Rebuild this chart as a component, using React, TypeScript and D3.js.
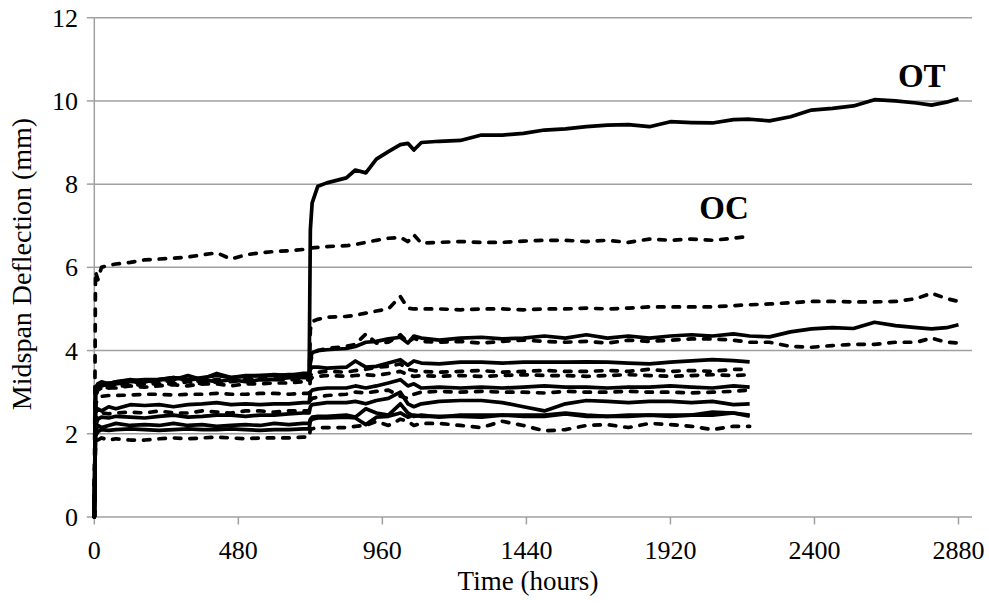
import React from "react";
import * as d3 from "d3";

// Reading times (hours): before reloading, after reloading, extended monitoring
const timePre = [0, 4, 12, 24, 48, 72, 120, 168, 216, 264, 312, 360, 408, 456, 504, 552, 600, 648, 696, 716];
const timePost = [720, 726, 745, 775, 840, 870, 905, 940, 980, 1020, 1045, 1065, 1090, 1150, 1220, 1290, 1360, 1430, 1500, 1570, 1640, 1710, 1780, 1850, 1920, 1990, 2060, 2130, 2184];
const timeTail = [2250, 2320, 2390, 2460, 2530, 2600, 2670, 2740, 2790, 2840, 2880];

const timeShort = [...timePre, ...timePost];
const timeLong = [...timeShort, ...timeTail];

// Midspan deflection (mm)
const deflOT = [
  0, 3.1, 3.2, 3.15, 3.2, 3.25, 3.3, 3.25, 3.3, 3.35, 3.3, 3.35, 3.4, 3.35, 3.4, 3.4, 3.42, 3.4, 3.45, 3.45,
  6.9, 7.55, 7.95, 8.03, 8.15, 8.34, 8.27, 8.6, 8.78, 8.95, 8.98, 8.82, 9.0, 9.03, 9.05, 9.18, 9.18, 9.22, 9.3, 9.33, 9.38, 9.42, 9.43, 9.38, 9.5, 9.48, 9.47, 9.55, 9.56,
  9.52, 9.62, 9.78, 9.82, 9.88, 10.03, 10.0, 9.95, 9.9, 9.97, 10.05,
];
const deflOC = [
  0, 5.9, 5.7, 6.0, 6.05, 6.08, 6.12, 6.18, 6.2, 6.22, 6.25, 6.3, 6.35, 6.2, 6.3, 6.35, 6.38, 6.4, 6.43, 6.45,
  6.46, 6.47, 6.48, 6.5, 6.52, 6.55, 6.6, 6.65, 6.7, 6.72, 6.62, 6.78, 6.58, 6.6, 6.62, 6.6, 6.6, 6.63, 6.65, 6.65, 6.62, 6.65, 6.6, 6.68, 6.65, 6.68, 6.65, 6.7, 6.75,
];
const deflA = [
  0, 2.9, 3.1, 3.15, 3.1, 3.15, 3.15, 3.2, 3.2, 3.2, 3.25, 3.2, 3.25, 3.25, 3.3, 3.3, 3.3, 3.3, 3.3, 3.3,
  4.5, 4.7, 4.75, 4.8, 4.82, 4.85, 4.9, 4.95, 5.0, 5.3, 5.02, 5.0, 5.0, 5.0, 4.98, 5.0, 5.0, 4.98, 5.0, 5.0, 5.02, 5.0, 5.02, 5.05, 5.05, 5.05, 5.05, 5.08, 5.1,
  5.12, 5.15, 5.18, 5.18, 5.17, 5.17, 5.18, 5.25, 5.38, 5.25, 5.18,
];
const deflB = [
  0, 3.05, 3.2, 3.25, 3.2, 3.25, 3.28, 3.3, 3.3, 3.35, 3.3, 3.32, 3.45, 3.35, 3.38, 3.4, 3.4, 3.42, 3.42, 3.45,
  3.8, 3.95, 4.0, 4.02, 4.05, 4.1, 4.2, 4.22, 4.28, 4.32, 4.18, 4.35, 4.3, 4.25, 4.3, 4.32, 4.28, 4.3, 4.35, 4.3, 4.38, 4.3, 4.35, 4.3, 4.35, 4.38, 4.35, 4.4, 4.35,
  4.33, 4.45, 4.52, 4.55, 4.53, 4.68, 4.6, 4.55, 4.52, 4.55, 4.62,
];
const deflC = [
  0, 3.0, 3.15, 3.2, 3.22, 3.2, 3.22, 3.25, 3.25, 3.28, 3.3, 3.25, 3.3, 3.28, 3.3, 3.32, 3.32, 3.35, 3.35, 3.38,
  3.7, 3.9, 4.0, 4.05, 4.1, 4.15, 4.4, 4.18, 4.2, 4.38, 4.2, 4.3, 4.22, 4.2, 4.22, 4.18, 4.22, 4.25, 4.22, 4.2, 4.22, 4.18, 4.25, 4.22, 4.25, 4.28, 4.28, 4.25, 4.2,
  4.2, 4.1, 4.08, 4.12, 4.15, 4.15, 4.2, 4.2, 4.3, 4.2, 4.18,
];
const deflD = [
  0, 3.0, 3.15, 3.2, 3.15, 3.2, 3.25, 3.25, 3.3, 3.3, 3.4, 3.3, 3.25, 3.3, 3.25, 3.3, 3.3, 3.35, 3.35, 3.35,
  3.55, 3.6, 3.6, 3.58, 3.6, 3.75, 3.6, 3.62, 3.7, 3.78, 3.65, 3.75, 3.7, 3.68, 3.72, 3.72, 3.7, 3.72, 3.72, 3.72, 3.73, 3.72, 3.7, 3.68, 3.72, 3.75, 3.78, 3.76, 3.73,
];
const deflE1 = [
  0, 2.9, 3.05, 3.1, 3.1, 3.1, 3.15, 3.12, 3.15, 3.18, 3.15, 3.2, 3.2, 3.15, 3.2, 3.2, 3.22, 3.22, 3.25, 3.25,
  3.4, 3.45, 3.48, 3.5, 3.48, 3.52, 3.55, 3.6, 3.62, 3.68, 3.55, 3.52, 3.5, 3.48, 3.5, 3.52, 3.48, 3.5, 3.52, 3.5, 3.5, 3.52, 3.5, 3.55, 3.5, 3.52, 3.5, 3.55, 3.55,
];
const deflE2 = [
  0, 2.7, 2.85, 2.9, 2.92, 2.92, 2.93, 2.95, 2.95, 2.93, 2.95, 2.95, 2.97, 2.95, 2.95, 2.97, 2.97, 2.95, 2.97, 2.97,
  3.3, 3.35, 3.38, 3.4, 3.38, 3.4, 3.42, 3.4, 3.45, 3.5, 3.42, 3.38, 3.4, 3.38, 3.4, 3.38, 3.4, 3.42, 3.4, 3.4, 3.38, 3.4, 3.42, 3.4, 3.38, 3.4, 3.42, 3.4, 3.42,
];
const deflF = [
  0, 2.5, 2.6, 2.55, 2.65, 2.6, 2.7, 2.68, 2.7, 2.65, 2.7, 2.72, 2.75, 2.7, 2.72, 2.7, 2.72, 2.72, 2.75, 2.75,
  3.0, 3.05, 3.08, 3.1, 3.1, 3.15, 3.1, 3.15, 3.22, 3.3, 3.15, 3.2, 3.1, 3.12, 3.1, 3.12, 3.1, 3.12, 3.15, 3.12, 3.12, 3.1, 3.12, 3.12, 3.15, 3.12, 3.1, 3.15, 3.12,
];
const deflG = [
  0, 2.3, 2.45, 2.5, 2.48, 2.5, 2.52, 2.5, 2.55, 2.5, 2.5, 2.55, 2.52, 2.5, 2.55, 2.55, 2.52, 2.55, 2.55, 2.55,
  2.8, 2.85, 2.88, 2.92, 2.95, 3.0, 2.98, 3.02, 3.05, 2.9, 2.85, 2.95, 3.0, 3.02, 3.0, 3.02, 3.0, 3.0, 2.98, 3.02, 3.0, 3.0, 3.02, 3.0, 3.0, 2.98, 3.0, 3.02, 3.05,
];
const deflH = [
  0, 2.2, 2.35, 2.4, 2.38, 2.42, 2.4, 2.38, 2.42, 2.45, 2.4, 2.42, 2.45, 2.45, 2.42, 2.45, 2.45, 2.48, 2.5, 2.5,
  2.65, 2.7, 2.72, 2.75, 2.75, 2.78, 2.72, 2.8, 2.85, 3.0, 2.72, 2.65, 2.72, 2.78, 2.8, 2.8, 2.75, 2.65, 2.55, 2.72, 2.8, 2.78, 2.75, 2.78, 2.78, 2.75, 2.78, 2.7, 2.72,
];
const deflI = [
  0, 2.05, 2.2, 2.15, 2.2, 2.25, 2.2, 2.22, 2.2, 2.25, 2.2, 2.22, 2.18, 2.2, 2.22, 2.2, 2.25, 2.22, 2.25, 2.25,
  2.35, 2.4, 2.42, 2.42, 2.45, 2.4, 2.6, 2.5, 2.45, 2.72, 2.5, 2.42, 2.45, 2.4, 2.45, 2.45, 2.45, 2.45, 2.45, 2.5, 2.45, 2.42, 2.45, 2.45, 2.45, 2.45, 2.52, 2.5, 2.45,
];
const deflK = [
  0, 1.95, 2.05, 2.1, 2.08, 2.1, 2.12, 2.1, 2.08, 2.1, 2.12, 2.1, 2.1, 2.12, 2.1, 2.08, 2.1, 2.1, 2.12, 2.12,
  2.3, 2.35, 2.38, 2.38, 2.4, 2.38, 2.22, 2.4, 2.42, 2.5, 2.4, 2.45, 2.42, 2.42, 2.42, 2.4, 2.45, 2.42, 2.42, 2.48, 2.42, 2.42, 2.42, 2.45, 2.42, 2.45, 2.45, 2.5, 2.42,
];
const deflJ = [
  0, 1.7, 1.85, 1.9, 1.85, 1.88, 1.85, 1.85, 1.88, 1.9, 1.88, 1.9, 1.92, 1.9, 1.88, 1.9, 1.9, 1.9, 1.92, 1.92,
  2.1, 2.12, 2.15, 2.15, 2.15, 2.18, 2.2, 2.3, 2.2, 2.35, 2.3, 2.2, 2.25, 2.25, 2.2, 2.15, 2.3, 2.2, 2.07, 2.1, 2.2, 2.22, 2.15, 2.25, 2.22, 2.18, 2.1, 2.18, 2.18,
];

const yTicks = [0, 2, 4, 6, 8, 10, 12];
const xTicks = [0, 480, 960, 1440, 1920, 2400, 2880];

type Series = { name: string; times: number[]; values: number[]; dashed: boolean };

const series: Series[] = [
  { name: "J", times: timeShort, values: deflJ, dashed: true },
  { name: "K", times: timeShort, values: deflK, dashed: false },
  { name: "I", times: timeShort, values: deflI, dashed: false },
  { name: "H", times: timeShort, values: deflH, dashed: false },
  { name: "G", times: timeShort, values: deflG, dashed: true },
  { name: "F", times: timeShort, values: deflF, dashed: false },
  { name: "E2", times: timeShort, values: deflE2, dashed: true },
  { name: "E1", times: timeShort, values: deflE1, dashed: true },
  { name: "D", times: timeShort, values: deflD, dashed: false },
  { name: "C", times: timeLong, values: deflC, dashed: true },
  { name: "B", times: timeLong, values: deflB, dashed: false },
  { name: "A", times: timeLong, values: deflA, dashed: true },
  { name: "OC", times: timeShort, values: deflOC, dashed: true },
  { name: "OT", times: timeLong, values: deflOT, dashed: false },
];

const W = 989;
const H = 605;
const FONT = '"Liberation Serif", "Times New Roman", "DejaVu Serif", serif';
const GRID = "#a0a0a0";
const textStyle = { fontFamily: FONT };

export default function App() {
  const x = d3.scaleLinear().domain([0, 2925]).range([94.3, 972]);
  const y = d3.scaleLinear().domain([0, 12]).range([517, 17.7]);

  const line = d3
    .line<[number, number]>()
    .x((d) => x(d[0]))
    .y((d) => y(d[1]));

  const [x0, x1] = x.range();

  return (
    <svg
      width={W}
      height={H}
      style={{ position: "absolute", left: 0, top: 0, background: "#fff" }}
    >
      {/* horizontal gridlines */}
      {yTicks.slice(1).map((t) => (
        <line key={`g${t}`} x1={x0} x2={x1} y1={y(t)} y2={y(t)} stroke={GRID} strokeWidth={1.5} />
      ))}
      {/* axes */}
      <line x1={x0} x2={x0} y1={y(12)} y2={y(0)} stroke={GRID} strokeWidth={1.5} />
      <line x1={x0} x2={x1} y1={y(0)} y2={y(0)} stroke={GRID} strokeWidth={1.5} />
      {yTicks.map((t) => (
        <g key={`yt${t}`}>
          <line x1={x0 - 7.5} x2={x0} y1={y(t)} y2={y(t)} stroke={GRID} strokeWidth={1.5} />
          <text x={78} y={y(t)} dy="0.35em" textAnchor="end" fontSize={26} fill="#000" style={textStyle}>
            {t}
          </text>
        </g>
      ))}
      {xTicks.map((t) => (
        <g key={`xt${t}`}>
          <line x1={x(t)} x2={x(t)} y1={y(0)} y2={y(0) + 7.5} stroke={GRID} strokeWidth={1.5} />
          <text x={x(t)} y={559} textAnchor="middle" fontSize={26} fill="#000" style={textStyle}>
            {t}
          </text>
        </g>
      ))}

      {/* deflection histories */}
      {series.map((s) => (
        <path
          key={s.name}
          d={line(s.times.map((t, i) => [t, s.values[i]] as [number, number])) || ""}
          fill="none"
          stroke="#000"
          strokeWidth={3.7}
          strokeLinejoin="round"
          strokeLinecap={s.dashed ? "round" : "butt"}
          strokeDasharray={s.dashed ? "6.5,9" : undefined}
        />
      ))}

      {/* series labels */}
      <text x={x(2678)} y={y(10.34)} fontSize={33} fontWeight="bold" fill="#000" style={textStyle}>
        OT
      </text>
      <text x={x(2016)} y={y(7.16)} fontSize={33} fontWeight="bold" fill="#000" style={textStyle}>
        OC
      </text>

      {/* axis titles */}
      <text x={528} y={590} textAnchor="middle" fontSize={27} fill="#000" style={textStyle}>
        Time (hours)
      </text>
      <text
        transform={`translate(31, 264) rotate(-90)`}
        textAnchor="middle"
        fontSize={28}
        fill="#000"
        style={textStyle}
      >
        Midspan Deflection (mm)
      </text>
    </svg>
  );
}
